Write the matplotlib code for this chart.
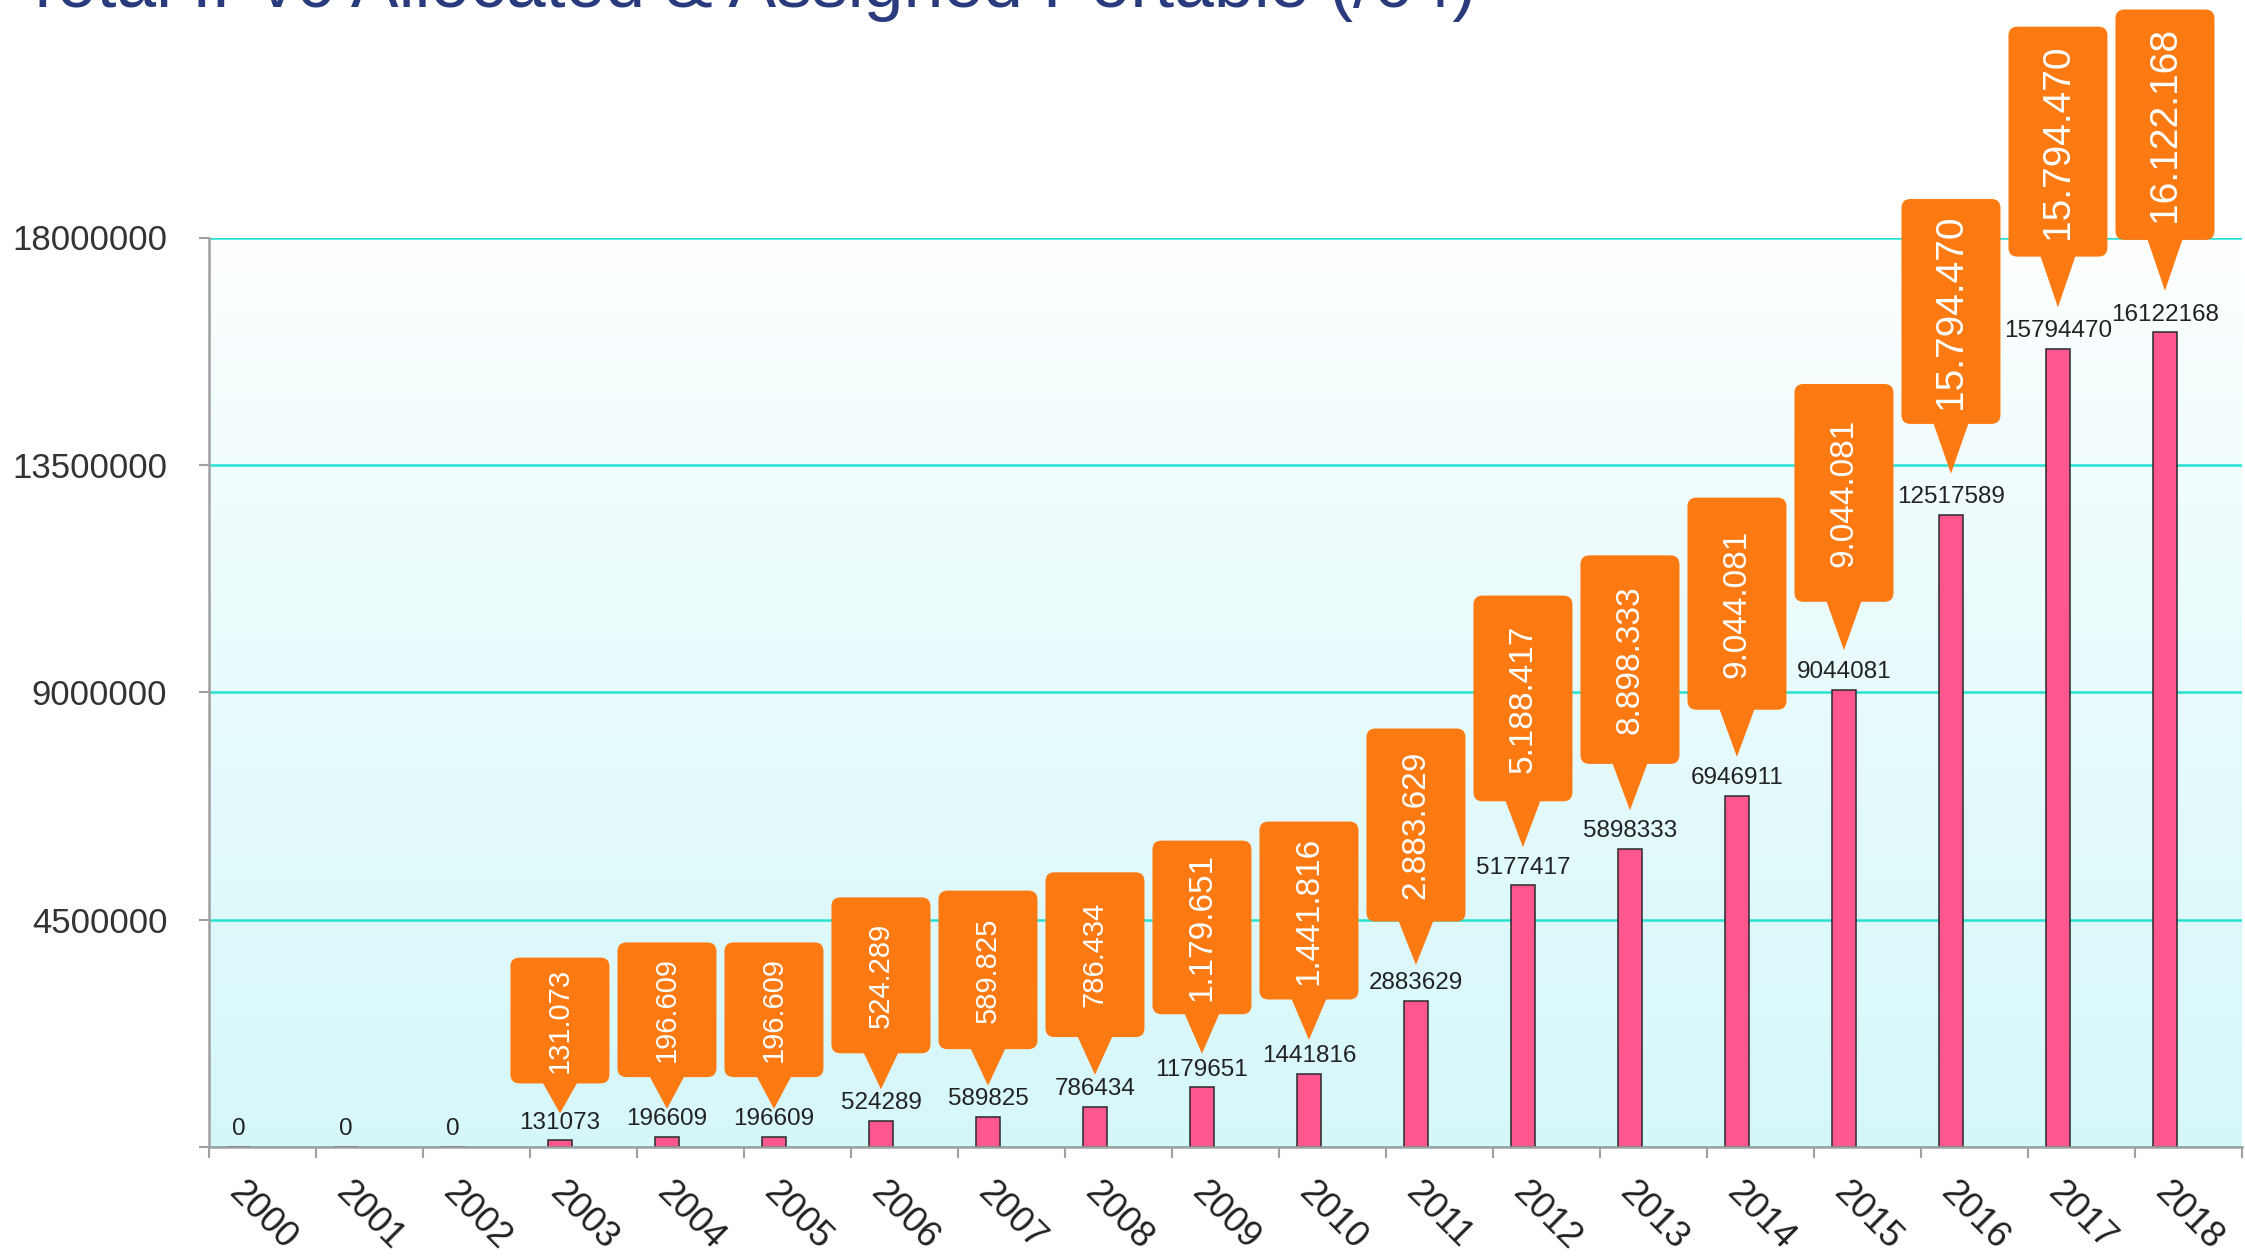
import matplotlib.pyplot as plt
import numpy as np
from matplotlib.patches import FancyBboxPatch, Polygon
from matplotlib.transforms import IdentityTransform, ScaledTranslation

plt.rcParams['font.family'] = ['Liberation Sans', 'DejaVu Sans']

TITLE = "Total IPv6 Allocated & Assigned Portable (/64)"

years = [str(y) for y in range(2000, 2019)]
totals = [0, 0, 0, 131073, 196609, 196609, 524289, 589825, 786434, 1179651,
          1441816, 2883629, 5177417, 5898333, 6946911, 9044081, 12517589,
          15794470, 16122168]
# text shown in the orange callouts (as printed on the chart)
callouts = [None, None, None, "131.073", "196.609", "196.609", "524.289",
            "589.825", "786.434", "1.179.651", "1.441.816", "2.883.629",
            "5.188.417", "8.898.333", "9.044.081", "9.044.081", "15.794.470",
            "15.794.470", "16.122.168"]
yticks = [0, 4500000, 9000000, 13500000, 18000000]

W, H, DPI = 2245, 1259, 100
PINK = "#ff578e"
ORANGE = "#fd7a12"
GRID = "#27e2d2"
AXGRAY = "#a0a0a0"

fig = plt.figure(figsize=(W / DPI, H / DPI), dpi=DPI)
ax = fig.add_axes([209 / W, 1 - 1147 / H, (2242 - 209) / W, (1147 - 237.5) / H])

n = len(years)
bar_x = np.arange(n) + 0.28
ax.set_xlim(0, n)
ax.set_ylim(0, yticks[-1])

# background gradient white -> pale cyan
top = np.array([1.0, 1.0, 1.0])
bot = np.array([0.84, 0.97, 0.98])
t = np.linspace(0, 1, 256)[:, None] ** 0.8
grad = (top * (1 - t) + bot * t)[:, None, :]
ax.imshow(grad, extent=[0, n, 0, yticks[-1]], aspect="auto", zorder=0)

ax.set_axisbelow(True)
ax.set_yticks(yticks)
ax.set_yticklabels([""] + [str(v) for v in yticks[1:]])
ax.yaxis.grid(True, color=GRID, lw=1.8)

ax.bar(bar_x, totals, width=0.22, color=PINK, edgecolor="#2a2a2a", lw=1.1, zorder=3)

for sp in ["top", "right"]:
    ax.spines[sp].set_visible(False)
for sp in ["left", "bottom"]:
    ax.spines[sp].set_color(AXGRAY)
    ax.spines[sp].set_linewidth(1.8)
    ax.spines[sp].set_zorder(4)

ax.tick_params(axis="y", length=7, width=1.5, color=AXGRAY, pad=23,
               labelsize=25, labelcolor="#333333")
ax.set_xticks(bar_x)
ax.set_xticklabels(years, rotation=-45, ha="left", va="top", rotation_mode="anchor")
ax.set_xticks(np.arange(n + 1), minor=True)
ax.tick_params(axis="x", which="major", length=0, pad=20, labelsize=26,
               labelcolor="#222222")
ax.tick_params(axis="x", which="minor", length=8, width=1.5, color=AXGRAY)
shift = ScaledTranslation(5 / 72, 0, fig.dpi_scale_trans)
for lab in ax.get_xticklabels():
    lab.set_transform(lab.get_transform() + shift)

# value labels above bars
for x, v in zip(bar_x, totals):
    ax.annotate(str(v), (x, v), xytext=(0, 8.5), textcoords="offset points",
                ha="center", va="baseline", fontsize=17.5, color="#222222", zorder=5)

# orange callouts, drawn in pixel space; size grows with the value's magnitude
renderer = fig.canvas.get_renderer()
ident = IdentityTransform()
box_w, ptr_w = 99, 36
fs_by_digits = {6: 21, 7: 24, 8: 28}
for x, v, s in zip(bar_x, totals, callouts):
    if s is None:
        continue
    mag = np.log10(v) - 5.12
    tip_gap = 27 + 7 * mag
    ptr_len = 30 + 10 * mag
    bh = 126 + 50 * mag
    fs = fs_by_digits[len(s.replace(".", ""))]
    cx, ytop = ax.transData.transform((x, v))
    tip = ytop + tip_gap
    bottom = tip + ptr_len
    box = FancyBboxPatch((cx - box_w / 2, bottom), box_w, bh,
                         boxstyle="round,pad=0,rounding_size=9",
                         fc=ORANGE, ec="none", transform=ident, zorder=4)
    ptr = Polygon([[cx - ptr_w / 2, bottom + 2], [cx + ptr_w / 2, bottom + 2], [cx, tip]],
                  closed=True, fc=ORANGE, ec="none", transform=ident, zorder=4)
    fig.add_artist(box)
    fig.add_artist(ptr)
    fig.text(cx / W, (bottom + bh / 2) / H, s, rotation=90, fontsize=fs,
             color="white", ha="center", va="center", zorder=6)

fig.text(21 / W, 1 - 7 / H, TITLE, ha="left", va="baseline", fontsize=51.5,
         color="#2a3b7d")

fig.savefig("out.png", dpi=DPI)
